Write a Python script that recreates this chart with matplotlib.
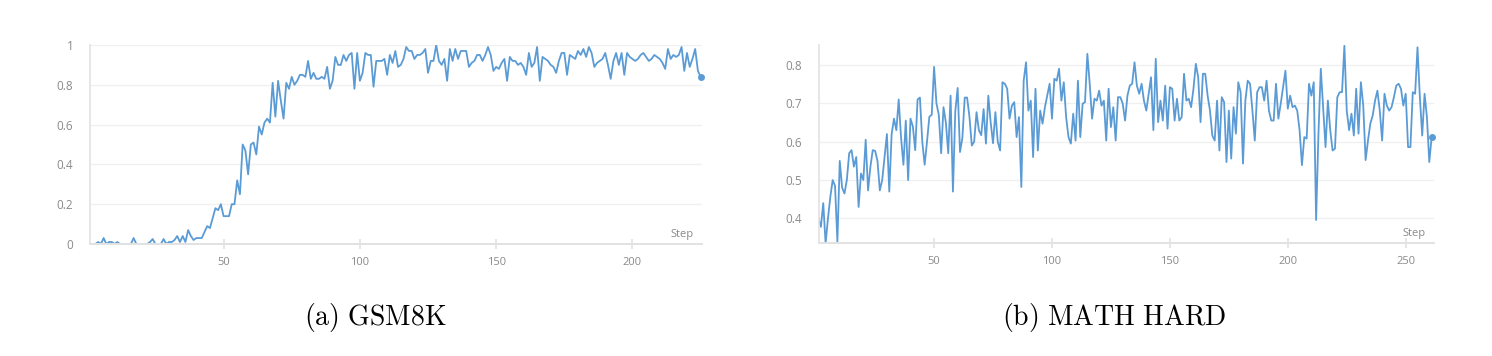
import matplotlib.pyplot as plt
from matplotlib.ticker import FuncFormatter

plt.rcParams['mathtext.fontset'] = 'cm'

# accuracy per step
gsm8k = [
    0, 0, 0, 0.01, 0, 0.03, 0, 0.01, 0.01, 0,
    0.01, 0, 0, 0, 0, 0, 0.03, 0, 0, 0,
    0, 0, 0.01, 0.025, 0, 0, 0, 0.025, 0, 0.01,
    0.01, 0.02, 0.04, 0.01, 0.04, 0.01, 0.07, 0.04, 0.02, 0.03,
    0.03, 0.03, 0.06, 0.09, 0.08, 0.13, 0.18, 0.17, 0.2, 0.14,
    0.14, 0.14, 0.2, 0.2, 0.32, 0.25, 0.5, 0.47, 0.35, 0.5,
    0.51, 0.45, 0.59, 0.55, 0.61, 0.63, 0.61, 0.81, 0.64, 0.82,
    0.72, 0.63, 0.81, 0.78, 0.84, 0.8, 0.82, 0.85, 0.85, 0.84,
    0.92, 0.83, 0.86, 0.83, 0.83, 0.84, 0.83, 0.89, 0.78, 0.82,
    0.94, 0.9, 0.9, 0.95, 0.92, 0.95, 0.96, 0.78, 0.96, 0.82,
    0.86, 0.96, 0.95, 0.95, 0.79, 0.92, 0.92, 0.92, 0.93, 0.85,
    0.95, 0.91, 0.97, 0.89, 0.9, 0.93, 0.99, 0.97, 0.97, 0.93,
    0.95, 0.95, 0.96, 0.98, 0.86, 0.92, 0.92, 1.0, 0.92, 0.9,
    0.93, 0.82, 0.98, 0.92, 0.98, 0.93, 0.97, 0.97, 0.97, 0.89,
    0.91, 0.92, 0.95, 0.95, 0.92, 0.95, 0.99, 0.95, 0.87, 0.89,
    0.88, 0.91, 0.93, 0.82, 0.94, 0.92, 0.92, 0.9, 0.91, 0.89,
    0.85, 0.96, 0.89, 0.91, 0.99, 0.82, 0.94, 0.93, 0.92, 0.9,
    0.89, 0.86, 0.92, 0.96, 0.96, 0.85, 0.95, 0.94, 0.93, 0.97,
    0.95, 0.98, 0.94, 0.99, 0.96, 0.89, 0.91, 0.92, 0.93, 0.96,
    0.9, 0.83, 0.92, 0.96, 0.9, 0.96, 0.85, 0.96, 0.94, 0.93,
    0.92, 0.93, 0.95, 0.96, 0.94, 0.92, 0.93, 0.95, 0.94, 0.93,
    0.91, 0.88, 0.98, 0.93, 0.95, 0.94, 0.95, 0.99, 0.87, 0.96,
    0.89, 0.93, 0.98, 0.87, 0.84,
]

math_hard = [
    0.40, 0.378, 0.44, 0.335, 0.40, 0.456, 0.50, 0.485, 0.34, 0.55,
    0.48, 0.465, 0.50, 0.57, 0.578, 0.535, 0.56, 0.43, 0.517, 0.50,
    0.605, 0.473, 0.535, 0.578, 0.576, 0.55, 0.473, 0.50, 0.56, 0.62,
    0.47, 0.62, 0.66, 0.63, 0.71, 0.61, 0.54, 0.655, 0.50, 0.66,
    0.64, 0.578, 0.71, 0.715, 0.60, 0.54, 0.60, 0.665, 0.67, 0.795,
    0.70, 0.67, 0.57, 0.69, 0.65, 0.57, 0.72, 0.47, 0.68, 0.74,
    0.573, 0.61, 0.715, 0.715, 0.665, 0.59, 0.60, 0.677, 0.63, 0.617,
    0.685, 0.595, 0.72, 0.65, 0.596, 0.677, 0.60, 0.577, 0.755, 0.751,
    0.738, 0.66, 0.694, 0.703, 0.612, 0.664, 0.482, 0.759, 0.807, 0.681,
    0.707, 0.56, 0.738, 0.577, 0.681, 0.647, 0.69, 0.72, 0.751, 0.66,
    0.764, 0.759, 0.79, 0.707, 0.755, 0.664, 0.612, 0.595, 0.673, 0.603,
    0.759, 0.612, 0.699, 0.703, 0.829, 0.751, 0.66, 0.712, 0.707, 0.733,
    0.694, 0.707, 0.603, 0.738, 0.638, 0.69, 0.603, 0.716, 0.716, 0.699,
    0.655, 0.72, 0.746, 0.751, 0.807, 0.746, 0.725, 0.751, 0.707, 0.681,
    0.725, 0.768, 0.63, 0.816, 0.651, 0.707, 0.655, 0.746, 0.634, 0.742,
    0.738, 0.655, 0.712, 0.655, 0.664, 0.777, 0.707, 0.712, 0.69, 0.738,
    0.803, 0.768, 0.651, 0.777, 0.777, 0.72, 0.681, 0.616, 0.603, 0.707,
    0.577, 0.716, 0.703, 0.547, 0.681, 0.556, 0.69, 0.621, 0.755, 0.729,
    0.543, 0.707, 0.759, 0.751, 0.681, 0.603, 0.729, 0.742, 0.742, 0.707,
    0.759, 0.681, 0.655, 0.655, 0.751, 0.66, 0.699, 0.742, 0.785, 0.686,
    0.72, 0.69, 0.694, 0.681, 0.63, 0.539, 0.612, 0.608, 0.751, 0.72,
    0.755, 0.396, 0.621, 0.79, 0.69, 0.586, 0.707, 0.63, 0.577, 0.582,
    0.716, 0.729, 0.729, 0.85, 0.681, 0.63, 0.673, 0.616, 0.738, 0.621,
    0.755, 0.694, 0.552, 0.603, 0.647, 0.668, 0.707, 0.733, 0.681, 0.603,
    0.725, 0.694, 0.681, 0.69, 0.716, 0.746, 0.751, 0.738, 0.694, 0.725,
    0.586, 0.586, 0.729, 0.725, 0.846, 0.716, 0.616, 0.725, 0.664, 0.547, 0.612,
]

captions = [r"$\mathrm{(a)\ GSM8K}$", r"$\mathrm{(b)\ MATH\ HARD}$"]
gsm_yticks = [0, 0.2, 0.4, 0.6, 0.8, 1]
gsm_xticks = [50, 100, 150, 200]
math_yticks = [0.4, 0.5, 0.6, 0.7, 0.8]
math_xticks = [50, 100, 150, 200, 250]

LINE = '#5b9bd5'
GRID = '#f0f0f0'
AXIS = '#e2e2e2'
TXT = '#8a8a8a'

fig = plt.figure(figsize=(14.92, 3.56), dpi=100)
ax1 = fig.add_axes([90 / 1492, 112 / 356, 612 / 1492, 199 / 356])
ax2 = fig.add_axes([819 / 1492, 113 / 356, 615 / 1492, 198 / 356])


def style(ax, xticks, yticks):
    for s in ['top', 'right']:
        ax.spines[s].set_visible(False)
    ax.spines['left'].set_color(AXIS)
    ax.spines['bottom'].set_color(AXIS)
    ax.spines['left'].set_linewidth(1.2)
    ax.spines['bottom'].set_linewidth(1.4)
    ax.set_xticks(xticks)
    ax.set_yticks(yticks)
    ax.yaxis.set_major_formatter(FuncFormatter(lambda v, p: ('%g' % v)))
    ax.grid(axis='y', color=GRID, linewidth=1.0)
    ax.set_axisbelow(True)
    ax.tick_params(axis='y', length=0, pad=12, labelsize=8.5, labelcolor=TXT)
    ax.tick_params(axis='x', direction='inout', length=7, width=1.2, color=AXIS,
                   pad=6, labelsize=8, labelcolor=TXT)
    for lab in ax.get_xticklabels() + ax.get_yticklabels():
        lab.set_fontfamily('Open Sans')
    ax.annotate('Step', xy=(1, 0), xycoords='axes fraction', xytext=(-6, 3),
                textcoords='offset points', ha='right', va='bottom',
                fontsize=8, color=TXT, fontfamily='Open Sans')


steps1 = list(range(1, len(gsm8k) + 1))
ax1.plot(steps1, gsm8k, color=LINE, linewidth=1.3)
ax1.plot(steps1[-1], gsm8k[-1], 'o', color=LINE, markersize=4, clip_on=False)
ax1.set_xlim(1, 225.5)
ax1.set_ylim(0, 1)
style(ax1, gsm_xticks, gsm_yticks)

steps2 = list(range(1, len(math_hard) + 1))
ax2.plot(steps2, math_hard, color=LINE, linewidth=1.3)
ax2.plot(steps2[-1], math_hard[-1], 'o', color=LINE, markersize=4, clip_on=False)
ax2.set_xlim(1.2, 262)
ax2.set_ylim(0.336, 0.852)
style(ax2, math_xticks, math_yticks)

fig.text(375 / 1492, 1 - 317 / 356, captions[0], ha='center', va='center', fontsize=20)
fig.text(1114 / 1492, 1 - 317 / 356, captions[1], ha='center', va='center', fontsize=20)

fig.savefig('out.png', dpi=100, facecolor='white')
